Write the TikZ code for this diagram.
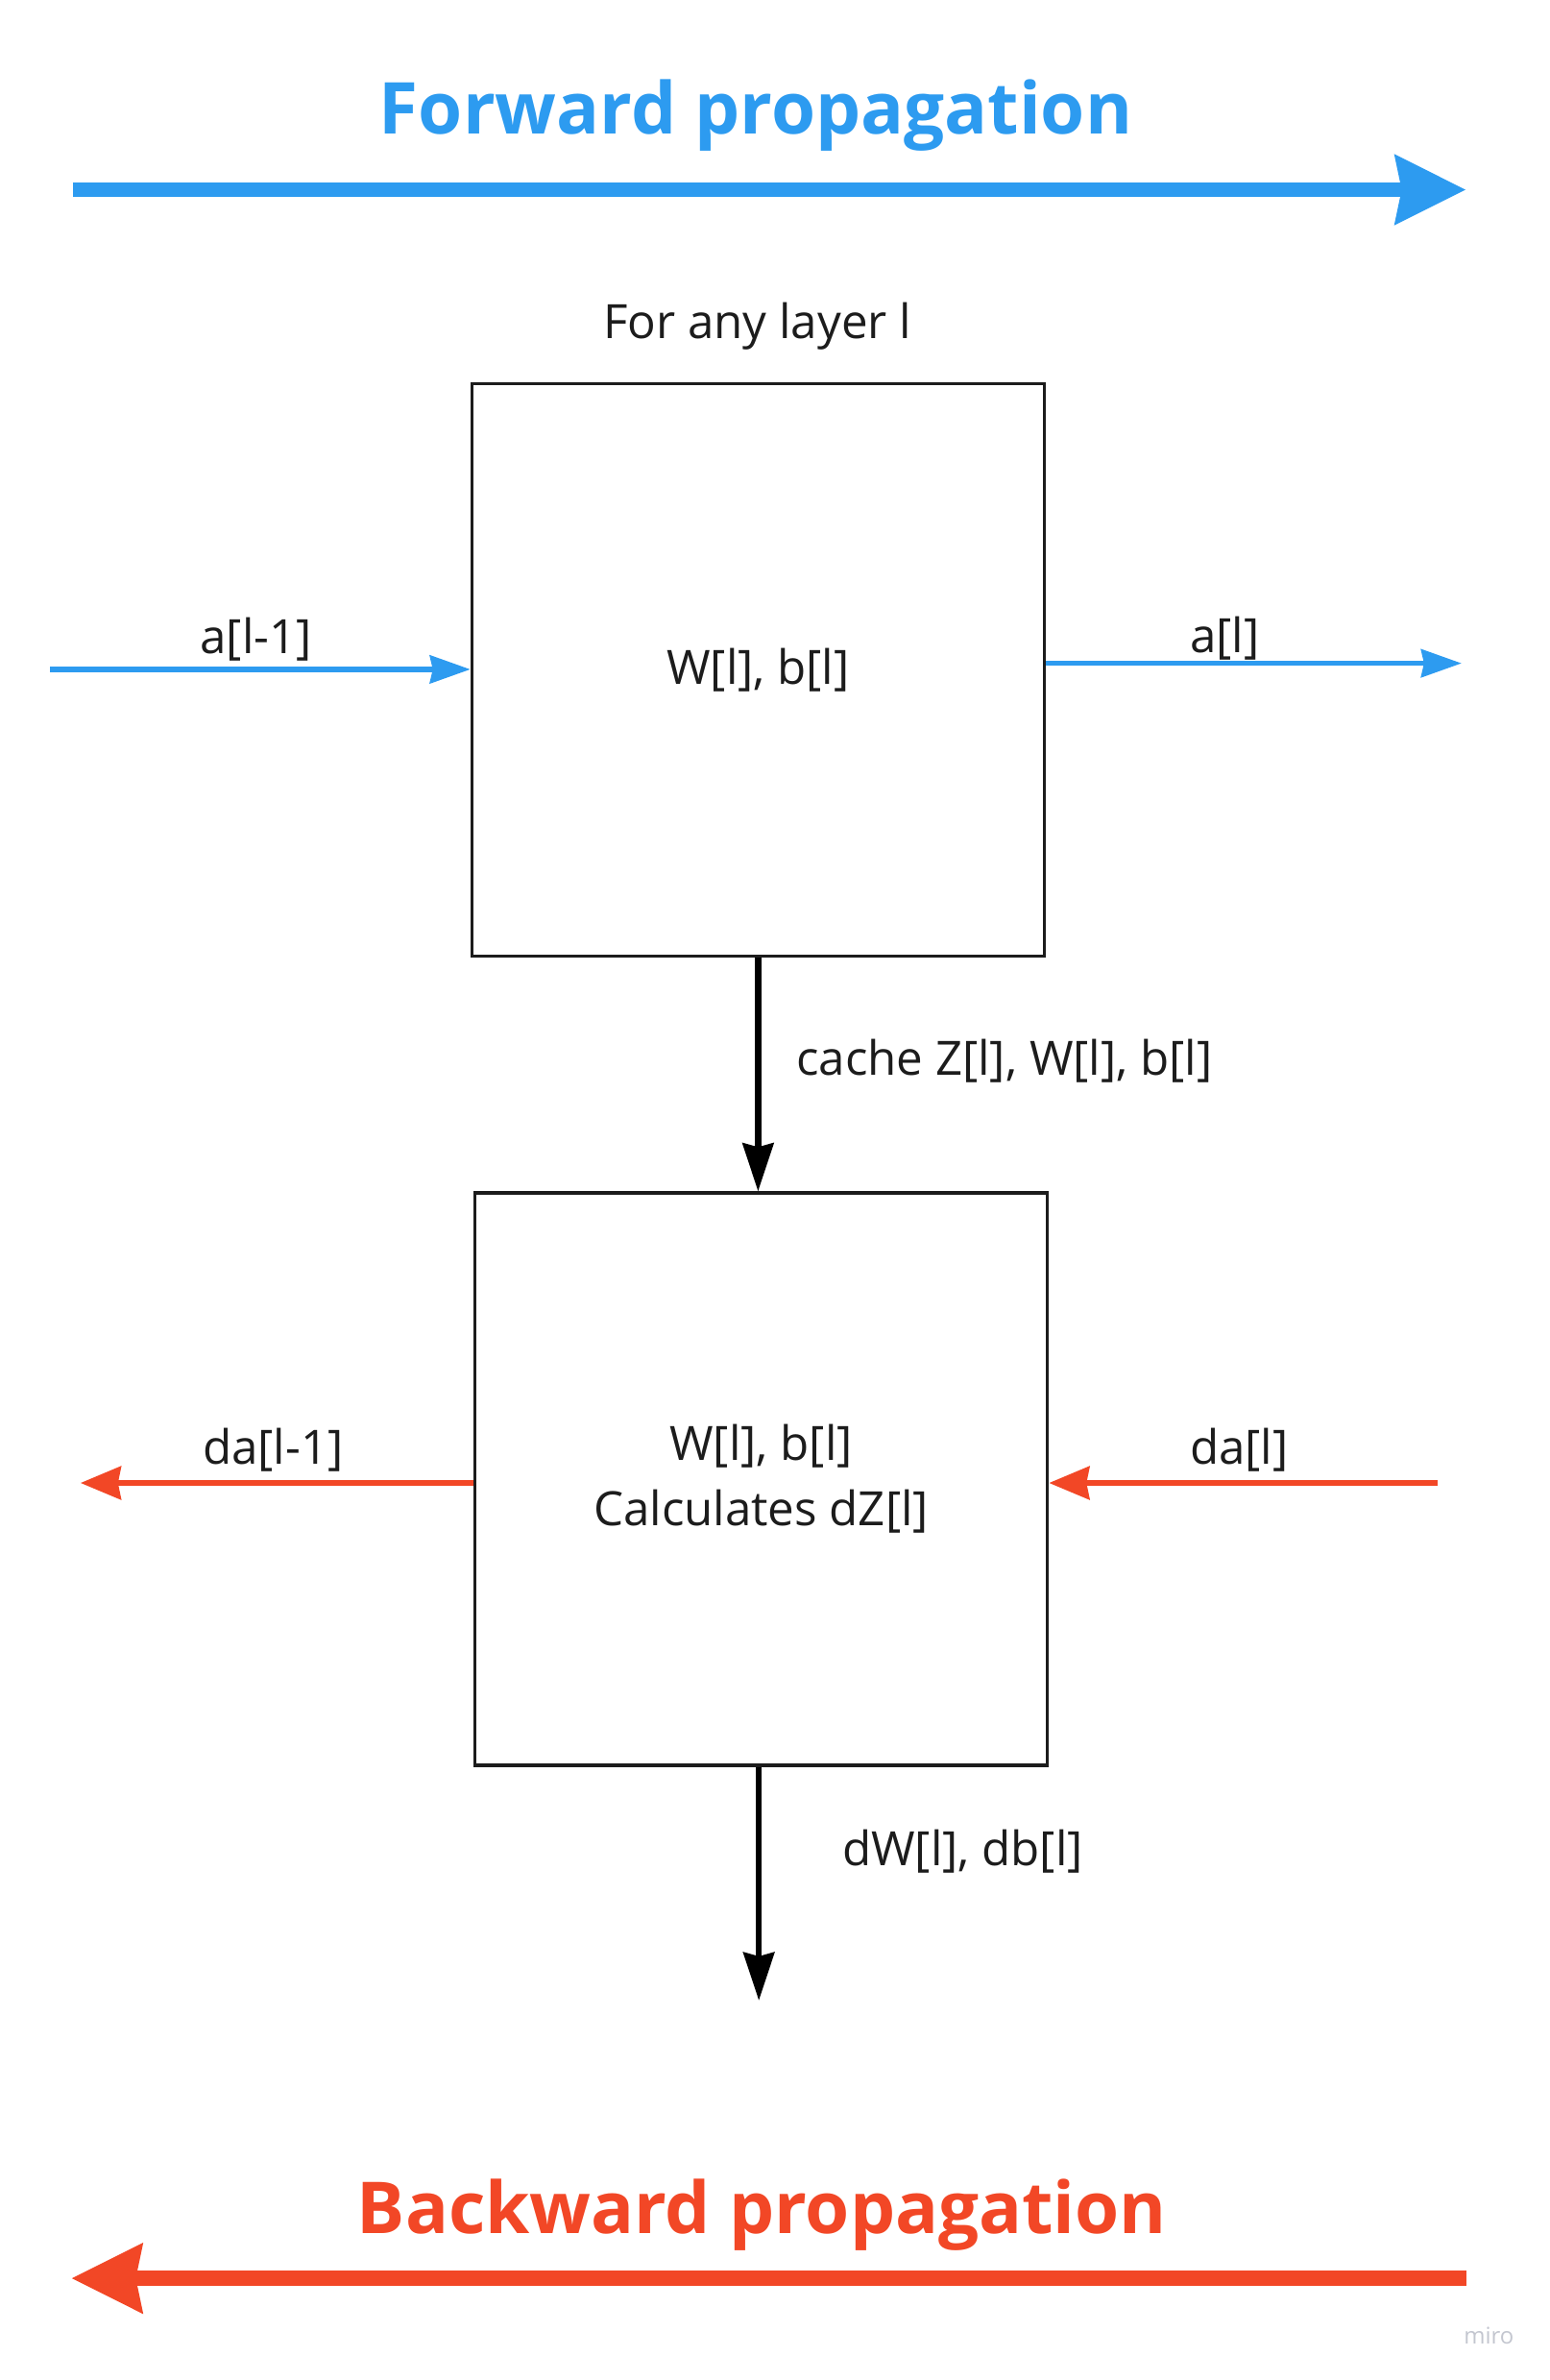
\documentclass[tikz,border=0pt]{standalone}
\usepackage{fontspec}
\setmainfont{Open Sans}
\usetikzlibrary{arrows.meta}

\definecolor{fwdblue}{HTML}{2D9BF0}
\definecolor{bwdred}{HTML}{F24726}
\definecolor{miroGray}{HTML}{C3C6CF}
\definecolor{inkgray}{HTML}{1C1C1C}

\begin{document}
\begin{tikzpicture}[x=0.015798cm, y=-0.015798cm, font=\fontsize{14}{17}\selectfont,
    block/.style={rectangle, draw=inkgray, line width=0.95pt, minimum width=5.956cm, minimum height=5.956cm, inner sep=0pt, align=center, text=inkgray},
    title/.style={font=\fontsize{21.2}{26}\selectfont\bfseries},
    lbl/.style={text=inkgray},
    bigarrow/.style={line width=4.5pt, -{Stealth[length=0.73cm, width=0.70cm, inset=0.06cm]}},
    fwdarrow/.style={fwdblue, line width=1.5pt, -{Stealth[length=0.42cm, width=0.29cm, inset=0.03cm]}},
    bwdarrow/.style={bwdred, line width=1.9pt, -{Stealth[length=0.42cm, width=0.34cm, inset=0.03cm]}},
    flow/.style={black, line width=1.8pt, -{Stealth[length=0.5cm, width=0.32cm, inset=0.04cm]}}]

    \useasboundingbox (0,0) rectangle (1021,1568);

    % forward direction
    \node[title, text=fwdblue] (fwdtitle) at (498,76) {Forward propagation};
    \node[coordinate] (fwdstart) at (48,125) {};
    \node[coordinate] (fwdend) at (966,125) {};
    \draw[bigarrow, fwdblue] (fwdstart) -- (fwdend);

    \node[lbl] (caption) at (499,215) {For any layer l};

    \node[block] (forward) at (499.5,441.5) {W[l], b[l]};
    \node[coordinate] (ain) at (33,441) {};
    \node[coordinate] (aout) at (963,437) {};

    \draw[fwdarrow] (ain) -- node[lbl, above=-1.5pt, pos=0.49] {a[l-1]} (ain -| forward.west);
    \draw[fwdarrow] (aout -| forward.east) -- node[lbl, above=-3.2pt, pos=0.43] {a[l]} (aout);

    \node[block, font={\fontsize{14}{19.3}\selectfont}] (backward) at (501.5,974.5) {W[l], b[l]\\Calculates dZ[l]};

    \draw[flow] (forward.south) -- node[lbl, right=0.25cm, pos=0.44] {cache Z[l], W[l], b[l]} (forward.south |- backward.north);

    \node[coordinate] (daout) at (53,977) {};
    \node[coordinate] (dain) at (947,977) {};
    \draw[bwdarrow] (daout -| backward.west) -- node[lbl, above=-1pt, pos=0.51] {da[l-1]} (daout);
    \draw[bwdarrow] (dain) -- node[lbl, above=-1pt, pos=0.51] {da[l]} (dain -| backward.east);

    \node[coordinate] (grad) at (500,1318) {};
    \draw[flow] (grad |- backward.south) -- node[lbl, right=0.72cm, pos=0.36] {dW[l], db[l]} (grad);

    % backward direction
    \node[title, text=bwdred] (bwdtitle) at (502,1459) {Backward propagation};
    \node[coordinate] (bwdstart) at (966,1501) {};
    \node[coordinate] (bwdend) at (47,1501) {};
    \draw[bigarrow, bwdred] (bwdstart) -- (bwdend);

    \node[text=miroGray, font=\fontsize{6.8}{8}\selectfont] (miro) at (981,1539) {miro};

\end{tikzpicture}
\end{document}
